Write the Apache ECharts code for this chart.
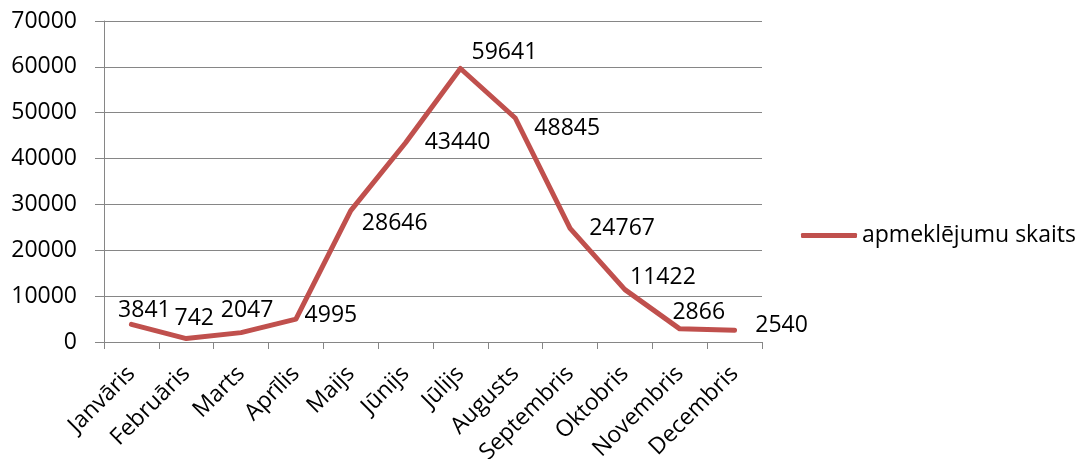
<!DOCTYPE html>
<html>
<head>
<meta charset="utf-8">
<script src="https://cdn.jsdelivr.net/npm/echarts@6/dist/echarts.min.js"></script>
<style>
  html, body { margin: 0; padding: 0; background: #fff; }
  #chart { width: 1077px; height: 459px; }
</style>
</head>
<body>
<div id="chart"></div>
<script>
// Monthly visit counts
const months = ['Janvāris', 'Februāris', 'Marts', 'Aprīlis', 'Maijs', 'Jūnijs',
  'Jūlijs', 'Augusts', 'Septembris', 'Oktobris', 'Novembris', 'Decembris'];
const visits = [3841, 742, 2047, 4995, 28646, 43440, 59641, 48845, 24767, 11422, 2866, 2540];
const seriesName = 'apmeklējumu skaits';
const yMin = 0;
const yMax = 70000;
const yStep = 10000;

// Per-point label offsets (pixels from the point) so values sit clear of the line
const labelOffsets = [
  [13, -14], [8, -20], [6, -22], [35, -4], [44, 13], [52, 0],
  [44, -16], [52, 10], [52, 0], [38, -12], [19, -16], [47, -5]
];

const FONT = '"Open Sans", "Noto Sans", sans-serif';
const FS = 23;
const GRAY = '#868686';
const RED = '#C0504D';

const chart = echarts.init(document.getElementById('chart'), null, { renderer: 'canvas' });

chart.setOption({
  animation: false,
  backgroundColor: '#fff',
  textStyle: { fontFamily: FONT },
  grid: {
    left: 104, right: 315, top: 21, bottom: 117,
    containLabel: false,
    outerBoundsMode: 'none'
  },
  legend: {
    data: [seriesName],
    left: 801,
    top: 224,
    padding: 0,
    icon: 'roundRect',
    itemWidth: 56,
    itemHeight: 5,
    itemGap: 0,
    textStyle: { fontFamily: FONT, fontSize: FS, color: '#000' }
  },
  xAxis: {
    type: 'category',
    data: months,
    boundaryGap: true,
    axisLine: { show: true, lineStyle: { color: GRAY, width: 1 } },
    axisTick: { show: true, length: 7, alignWithLabel: false, lineStyle: { color: GRAY } },
    axisLabel: {
      rotate: 45,
      interval: 0,
      margin: 28,
      fontFamily: FONT,
      fontSize: FS,
      color: '#000'
    },
    splitLine: { show: false }
  },
  yAxis: {
    type: 'value',
    min: yMin,
    max: yMax,
    interval: yStep,
    axisLine: { show: true, lineStyle: { color: GRAY, width: 1 } },
    axisTick: { show: true, length: 9, lineStyle: { color: GRAY } },
    axisLabel: {
      margin: 27,
      fontFamily: FONT,
      fontSize: FS,
      color: '#000',
      formatter: (v) => String(v)
    },
    splitLine: { show: true, lineStyle: { color: GRAY, width: 1 } }
  },
  series: [{
    name: seriesName,
    type: 'line',
    data: visits.map((v, i) => ({ value: v, label: { offset: labelOffsets[i] } })),
    symbol: 'circle',
    symbolSize: 0.1,
    showSymbol: true,
    itemStyle: { color: RED },
    lineStyle: { color: RED, width: 5, cap: 'round', join: 'round' },
    label: {
      show: true,
      position: 'inside',
      fontFamily: FONT,
      fontSize: FS,
      color: '#000'
    }
  }]
});
</script>
</body>
</html>
